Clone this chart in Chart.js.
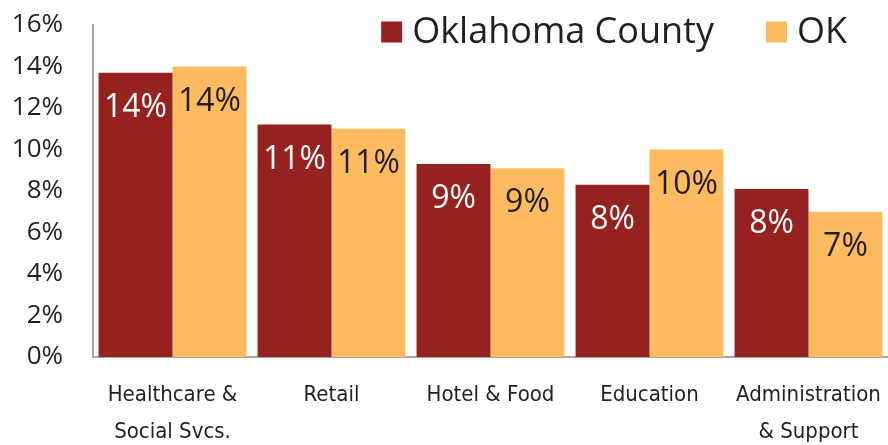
<!DOCTYPE html>
<html><head><meta charset="utf-8">
<script src="https://cdn.jsdelivr.net/npm/chart.js@4.4.1/dist/chart.umd.min.js"></script>
<style>html,body{margin:0;padding:0;background:#fff}#wrap{width:888px;height:445px;position:relative}</style>
</head><body><div id="wrap"><canvas id="c"></canvas></div>
<script>
const categories = [["Healthcare &", "Social Svcs."], "Retail", "Hotel & Food", "Education", ["Administration", "& Support"]];
const oklahomaCounty = [13.7, 11.2, 9.3, 8.3, 8.1];
const oklahomaState = [14.0, 11.0, 9.1, 10.0, 7.0];
const seriesNames = ["Oklahoma County", "OK"];
const yTickMin = 0, yTickMax = 16, yTickStep = 2;

const colOC = "#962220", colOK = "#FDBB5F", textDark = "#231F20";

const barLabels = {
  id: "barLabels",
  afterDatasetsDraw(chart) {
    const ctx = chart.ctx;
    ctx.save();
    ctx.font = "32px 'Open Sans'";
    ctx.textAlign = "center";
    ctx.textBaseline = "middle";
    chart.data.datasets.forEach((ds, di) => {
      const meta = chart.getDatasetMeta(di);
      ctx.fillStyle = di === 0 ? "#FFFFFF" : textDark;
      meta.data.forEach((el, i) => {
        ctx.fillText(Math.round(ds.data[i]) + "%", el.x, el.y + 35);
      });
    });
    ctx.restore();
  }
};

const topLegend = {
  id: "topLegend",
  afterDraw(chart) {
    const ctx = chart.ctx, area = chart.chartArea;
    ctx.save();
    ctx.font = "36px 'Open Sans'";
    ctx.textBaseline = "middle";
    ctx.textAlign = "left";
    const box = 21, gapBoxText = 10, gapItems = 52;
    const ds = chart.data.datasets;
    const widths = ds.map(d => ctx.measureText(d.label).width);
    let total = 0;
    widths.forEach((w, i) => { total += box + gapBoxText + w + (i < widths.length - 1 ? gapItems : 0); });
    let x = area.right - 41 - total;
    const cy = area.top + 7;
    ds.forEach((d, i) => {
      ctx.fillStyle = d.backgroundColor;
      ctx.fillRect(x, cy - box / 2, box, box);
      x += box + gapBoxText;
      ctx.fillStyle = textDark;
      ctx.fillText(d.label, x, cy + 1);
      x += widths[i] + gapItems;
    });
    ctx.restore();
  }
};

new Chart(document.getElementById("c"), {
  type: "bar",
  data: {
    labels: categories,
    datasets: [
      { label: seriesNames[0], data: oklahomaCounty, backgroundColor: colOC, categoryPercentage: 0.93, barPercentage: 1 },
      { label: seriesNames[1], data: oklahomaState, backgroundColor: colOK, categoryPercentage: 0.93, barPercentage: 1 }
    ]
  },
  options: {
    responsive: true,
    maintainAspectRatio: false,
    animation: false,
    layout: { autoPadding: false, padding: { top: 25, left: 12, right: -3, bottom: 0 } },
    plugins: {
      tooltip: { enabled: false },
      legend: { display: false }
    },
    scales: {
      x: {
        grid: { display: false, drawTicks: false },
        border: { display: true, color: "#A6A6A6", width: 2 },
        afterFit(s) { s.paddingLeft = 0; s.paddingRight = 0; s.height = 88; },
        ticks: {
          color: textDark, padding: 20, maxRotation: 0, autoSkip: false,
          font: { family: "'DejaVu Sans Condensed', sans-serif", size: 22, lineHeight: "37px" }
        }
      },
      y: {
        min: yTickMin, max: yTickMax,
        grid: { display: false, drawTicks: false },
        border: { display: true, color: "#A6A6A6", width: 2 },
        afterFit(s) { s.width = 81; s.paddingTop = 0; s.paddingBottom = 0; },
        ticks: {
          stepSize: yTickStep, color: textDark, padding: 30,
          font: { family: "'Open Sans'", size: 26 },
          callback: v => v + "%"
        }
      }
    }
  },
  plugins: [barLabels, topLegend]
});
</script></body></html>
